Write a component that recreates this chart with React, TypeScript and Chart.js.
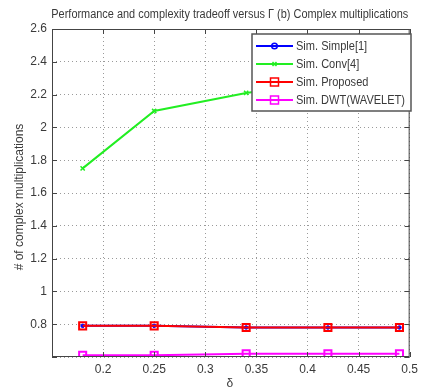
import React, { useEffect, useRef } from "react";
import { Chart, registerables } from "chart.js";

Chart.register(...registerables);

const titleText = "Performance and complexity tradeoff versus Γ (b) Complex multiplications";
const xAxisLabel = "δ";
const yAxisLabel = "# of complex multiplications";

const deltaValues = [0.18, 0.25, 0.34, 0.42, 0.49];
const simpleValues = [0.79, 0.79, 0.78, 0.78, 0.78];
const convValues = [1.75, 2.1, 2.21, 2.28, 2.33];
const proposedValues = [0.79, 0.79, 0.78, 0.78, 0.78];
const dwtValues = [0.61, 0.61, 0.62, 0.62, 0.62];

const seriesLabels = ["Sim. Simple[1]", "Sim. Conv[4]", "Sim. Proposed", "Sim. DWT(WAVELET)"];

const xMin = 0.15, xMax = 0.5, xStep = 0.05;
const yMin = 0.6, yMax = 2.6, yStep = 0.2;

const FONT = "'Liberation Sans', Arial, sans-serif";
const TEXT = "#3a3a3a";

const toPts = (ys: number[]) => ys.map((y, i) => ({ x: deltaValues[i], y }));
const fmt = (v: number) => String(Number(Number(v).toFixed(2)));

const decorPlugin = {
  id: "decor",
  afterDraw(chart: any) {
    const { ctx, chartArea: a, scales } = chart;
    ctx.save();
    // frame
    ctx.strokeStyle = "#444";
    ctx.lineWidth = 1;
    ctx.strokeRect(a.left + 0.5, a.top + 0.5, a.right - a.left - 1, a.bottom - a.top - 1);
    // inward ticks
    const tl = 5;
    ctx.beginPath();
    scales.x.ticks.forEach((t: any) => {
      const px = Math.round(scales.x.getPixelForValue(t.value)) + 0.5;
      ctx.moveTo(px, a.bottom); ctx.lineTo(px, a.bottom - tl);
      ctx.moveTo(px, a.top); ctx.lineTo(px, a.top + tl);
    });
    scales.y.ticks.forEach((t: any) => {
      const py = Math.round(scales.y.getPixelForValue(t.value)) + 0.5;
      ctx.moveTo(a.left, py); ctx.lineTo(a.left + tl, py);
      ctx.moveTo(a.right, py); ctx.lineTo(a.right - tl, py);
    });
    ctx.stroke();

    // title
    ctx.fillStyle = TEXT;
    ctx.font = `12px ${FONT}`;
    ctx.textAlign = "center";
    ctx.textBaseline = "middle";
    ctx.fillText(titleText, (a.left + a.right) / 2 - 1, 15, 357);

    // axis titles
    ctx.font = `12px ${FONT}`;
    ctx.fillText(xAxisLabel, (a.left + a.right) / 2 - 1, 384);
    ctx.save();
    ctx.translate(20, (a.top + a.bottom) / 2 + 4);
    ctx.rotate(-Math.PI / 2);
    ctx.fillText(yAxisLabel, 0, 0);
    ctx.restore();

    // legend
    const bx = 252, by = 34, bw = 159, bh = 77;
    ctx.fillStyle = "#fff";
    ctx.fillRect(bx, by, bw, bh);
    ctx.strokeStyle = "#555";
    ctx.lineWidth = 1.5;
    ctx.strokeRect(bx, by, bw, bh);
    const rowY = [46, 64, 82, 100];
    chart.data.datasets.forEach((ds: any, i: number) => {
      const y = rowY[i];
      ctx.strokeStyle = ds.borderColor;
      ctx.lineWidth = 2;
      ctx.beginPath();
      ctx.moveTo(256, y); ctx.lineTo(293, y);
      ctx.stroke();
      const mx = 274.5;
      ctx.lineWidth = 1.5;
      ctx.beginPath();
      if (ds.pointStyle === "circle") {
        ctx.arc(mx, y, 2.8, 0, Math.PI * 2);
        ctx.stroke();
      } else if (ds.pointStyle === "rect") {
        ctx.strokeRect(mx - 4, y - 4, 8, 8);
      } else {
        ctx.moveTo(mx - 2, y - 2); ctx.lineTo(mx + 2, y + 2);
        ctx.moveTo(mx - 2, y + 2); ctx.lineTo(mx + 2, y - 2);
        ctx.stroke();
      }
      ctx.fillStyle = TEXT;
      ctx.font = `12px ${FONT}`;
      ctx.textAlign = "left";
      ctx.textBaseline = "middle";
      const w = ctx.measureText(ds.label).width;
      ctx.fillText(ds.label, 296, y + 1, Math.min(w * 0.92, 109));
    });
    ctx.restore();
  },
};

export default function App() {
  const ref = useRef<HTMLCanvasElement>(null);
  useEffect(() => {
    if (!ref.current) return;
    const chart = new Chart(ref.current, {
      type: "line",
      data: {
        datasets: [
          {
            label: seriesLabels[0], data: toPts(simpleValues),
            borderColor: "#0000ff", backgroundColor: "#0000ff", borderWidth: 2,
            pointStyle: "circle", pointRadius: 1.8, pointBorderWidth: 1, order: 4,
          },
          {
            label: seriesLabels[1], data: toPts(convValues),
            borderColor: "#22ee22", backgroundColor: "#22ee22", borderWidth: 2,
            pointStyle: "crossRot", pointRadius: 3, pointBorderWidth: 1.5, order: 3,
          },
          {
            label: seriesLabels[2], data: toPts(proposedValues),
            borderColor: "#ff0000", backgroundColor: "rgba(0,0,0,0)", borderWidth: 2,
            pointStyle: "rect", pointRadius: 5, pointBorderWidth: 2, order: 1,
          },
          {
            label: seriesLabels[3], data: toPts(dwtValues),
            borderColor: "#ff00ff", backgroundColor: "rgba(0,0,0,0)", borderWidth: 2,
            pointStyle: "rect", pointRadius: 5, pointBorderWidth: 2, order: 2,
          },
        ] as any,
      },
      options: {
        responsive: false,
        animation: false,
        layout: { padding: { top: 29, right: 8, left: 0, bottom: 0 } },
        plugins: { legend: { display: false }, title: { display: false }, tooltip: { enabled: false } },
        elements: { line: { tension: 0 } },
        scales: {
          x: {
            type: "linear", min: xMin, max: xMax,
            afterFit: (s: any) => { s.height = 33; },
            ticks: {
              stepSize: xStep, color: TEXT, font: { family: FONT, size: 12 }, padding: 5,
              maxRotation: 0, autoSkip: false,
              callback: (v: any) => (Math.abs(v - xMin) < 1e-6 ? "" : fmt(v)),
            },
            grid: { color: "#9a9a9a", drawTicks: false, lineWidth: 1 },
            border: { display: false, dash: [1, 3] },
          },
          y: {
            type: "linear", min: yMin, max: yMax,
            afterFit: (s: any) => { s.width = 52; },
            ticks: {
              stepSize: yStep, color: TEXT, font: { family: FONT, size: 12 }, padding: 5,
              autoSkip: false,
              callback: (v: any) => (Math.abs(v - yMin) < 1e-6 ? "" : fmt(v)),
            },
            grid: { color: "#9a9a9a", drawTicks: false, lineWidth: 1 },
            border: { display: false, dash: [1, 3] },
          },
        },
      },
      plugins: [decorPlugin],
    });
    return () => chart.destroy();
  }, []);
  return (
    <div style={{ position: "fixed", left: 0, top: 0, width: 423, height: 390, background: "#fff" }}>
      <canvas ref={ref} width={423} height={390} />
    </div>
  );
}
